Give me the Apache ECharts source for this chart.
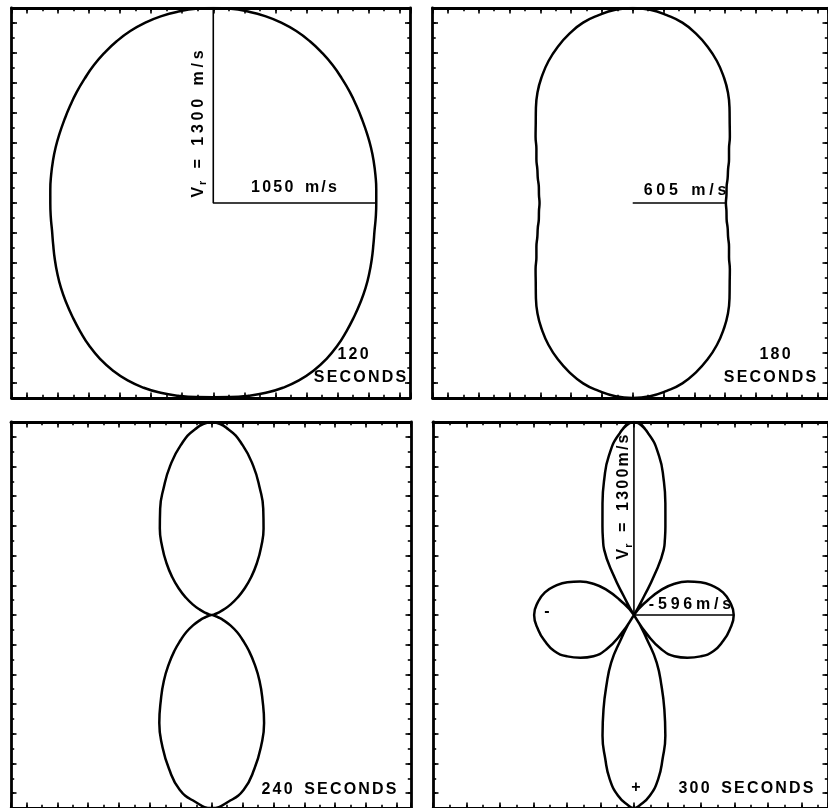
<!DOCTYPE html>
<html>
<head>
<meta charset="utf-8">
<script src="https://cdn.jsdelivr.net/npm/echarts@6/dist/echarts.min.js"></script>
<style>
  html, body { margin: 0; padding: 0; background: #fff; }
  #chart { width: 828px; height: 808px; }
</style>
</head>
<body>
<div id="chart"></div>
<script>
// Radial velocity V_r (m/s) against direction, in degrees measured clockwise
// from straight up. Only the right half (0-180 deg) is listed; the left half
// of each pattern is its mirror image.
const angles120 = [0, 5, 10, 15, 20, 25, 30, 35, 40, 45, 50, 55, 60, 65, 70, 75, 80, 85, 90,
                   95, 100, 105, 110, 115, 120, 125, 130, 135, 140, 145, 150, 155, 160, 165, 170, 175, 180];
const vr120     = [1300, 1300, 1296, 1290, 1280, 1265, 1245, 1222, 1198, 1172, 1149, 1127, 1108, 1093, 1081, 1070, 1061, 1054, 1050,
                   1051, 1055, 1068, 1087, 1109, 1133, 1157, 1183, 1212, 1243, 1270, 1291, 1305, 1311, 1310, 1305, 1299, 1295];

const angles180 = [0, 5, 10, 15, 20, 25, 30, 35, 40, 45, 50, 55, 60, 65, 70, 75, 80, 85, 90,
                   95, 100, 105, 110, 115, 120, 125, 130, 135, 140, 145, 150, 155, 160, 165, 170, 175, 180];
const vr180     = [1300, 1293, 1272, 1245, 1201, 1150, 1093, 1029, 962, 889, 822, 770, 722, 690, 659, 638, 619, 611, 605,
                   611, 619, 638, 659, 690, 722, 770, 822, 889, 962, 1029, 1093, 1150, 1201, 1245, 1272, 1293, 1300];

const angles240 = [0, 5, 10, 15, 20, 25, 30, 35, 40, 45, 50, 55, 60, 65, 70, 75, 80, 85, 90,
                   95, 100, 105, 110, 115, 120, 125, 130, 135, 140, 145, 150, 155, 160, 165, 170, 175, 180];
const vr240     = [1300, 1255, 1160, 1040, 910, 790, 672, 558, 455, 362, 278, 205, 140, 85, 42, 18, 6, 1, 0,
                   1, 6, 18, 42, 85, 140, 200, 262, 341, 432, 540, 658, 803, 937, 1071, 1195, 1261, 1300];

const angles300 = [0, 4, 8, 11, 14, 17.5, 20, 22, 24.5, 25.5, 26.5,
                   31.5, 35.5, 41, 48, 55, 63, 72, 80, 90,
                   99, 106, 112, 119, 125, 131, 136, 140, 146,
                   155, 157, 161, 164, 167, 170, 172.5, 175.5, 178.5, 180];
const vr300     = [1300, 1226, 1080, 930, 776, 625, 540, 475, 290, 144, 0,
                   -167, -285, -368, -430, -486, -534, -561, -580, -596,
                   -579, -553, -513, -455, -392, -321, -238, -136, 0,
                   206, 348, 506, 659, 834, 985, 1113, 1220, 1283, 1300];

// Values quoted on the guide lines (m/s)
const upward120 = 1300, sideways120 = 1050;
const sideways180 = 605;
const upward300 = 1300, sideways300 = -596;

// Panel captions
const times = ['120', '180', '240', '300'];
const unitWord = 'SECONDS';

// Frame ticks: long every 200 m/s, short every 100 m/s, counted from the origin
const majorStep = 200, minorStep = 100;

// ---- layout (pixels) and visible velocity window of each panel (m/s) ----
const panels = [
  { angles: angles120, vr: vr120, box: { left: 11.5, top: 8,   width: 399, height: 390 }, xr: [-1300, 1270.6], yr: [-1300, 1300] },
  { angles: angles180, vr: vr180, box: { left: 432.5, top: 8,  width: 400, height: 390 }, xr: [-1300, 1268],   yr: [-1300, 1300] },
  { angles: angles240, vr: vr240, box: { left: 11,   top: 422, width: 400, height: 390 }, xr: [-1300, 1291],   yr: [-1300, 1300] },
  { angles: angles300, vr: vr300, box: { left: 433,  top: 422, width: 400, height: 390 }, xr: [-1200, 1159],   yr: [-1300, 1300] }
];

const INK = '#000';

// Closed outline: right half from the top down, then the mirrored left half
// back up. The first and last segments are repeated so the smoothing runs
// through the starting point without a corner.
function outline(angles, vr) {
  const right = angles.map((a, i) => {
    const t = a * Math.PI / 180;
    return [vr[i] * Math.sin(t), vr[i] * Math.cos(t)];
  });
  const left = right.slice(1, -1).reverse().map(p => [-p[0], p[1]]);
  const loop = right.concat(left);
  return [loop[loop.length - 1]].concat(loop, [loop[0], loop[1]]);
}

// One edge of a frame: the border line with long ticks, or short ticks only
function edgeAxis(gridIndex, position, range, step, withLine) {
  return {
    type: 'value', gridIndex, position, min: range[0], max: range[1],
    splitNumber: 20, minInterval: step, maxInterval: step,
    axisLine: { show: withLine, onZero: false, lineStyle: { color: INK, width: 2.8 } },
    axisTick: { show: true, inside: true, length: withLine ? 5.5 : 3.2, lineStyle: { color: INK, width: 1.6 } },
    axisLabel: { show: false }, splitLine: { show: false }
  };
}
function dataAxis(gridIndex, range) {
  return { type: 'value', gridIndex, min: range[0], max: range[1], show: false };
}

const grid = [], xAxis = [], yAxis = [], series = [];
panels.forEach((p, i) => {
  grid.push(Object.assign({ containLabel: false }, p.box));
  xAxis.push(dataAxis(i, p.xr),
             edgeAxis(i, 'bottom', p.xr, majorStep, true), edgeAxis(i, 'bottom', p.xr, minorStep, false),
             edgeAxis(i, 'top', p.xr, majorStep, true), edgeAxis(i, 'top', p.xr, minorStep, false));
  yAxis.push(dataAxis(i, p.yr),
             edgeAxis(i, 'left', p.yr, majorStep, true), edgeAxis(i, 'left', p.yr, minorStep, false),
             edgeAxis(i, 'right', p.yr, majorStep, true), edgeAxis(i, 'right', p.yr, minorStep, false));
  series.push({
    type: 'line', xAxisIndex: 5 * i, yAxisIndex: 5 * i,
    data: outline(p.angles, p.vr), showSymbol: false, smooth: 0.5, clip: true, silent: true,
    lineStyle: { color: INK, width: 2.5 }
  });
});

function guide(i, pts) {
  series.push({
    type: 'line', xAxisIndex: 5 * i, yAxisIndex: 5 * i, data: pts,
    showSymbol: false, clip: true, silent: true, lineStyle: { color: INK, width: 1.6 }
  });
}
guide(0, [[0, upward120], [0, 0], [sideways120, 0]]);
guide(1, [[0, 0], [sideways180, 0]]);
guide(3, [[0, upward300], [0, 0], [Math.abs(sideways300), 0]]);

// ---- lettering: bold sans with open tracking ----
const FAMILY = '"Liberation Sans", Arial, sans-serif';
function tracked(str, style) {
  return str.split('').map(ch => '{' + (ch === ' ' ? 'w' : style) + '|' + ch + '}').join('');
}
const base = { fontFamily: FAMILY, fontWeight: 'bold', fontSize: 16, fill: INK };
const rich = {
  t:  Object.assign({}, base, { padding: [0, 1.1, 0, 1.1] }),
  tw: Object.assign({}, base, { padding: [0, 1.9, 0, 1.9] }),
  tn: Object.assign({}, base, { padding: [0, 0.7, 0, 0.7] }),
  w:  Object.assign({}, base, { padding: [0, 2.5, 0, 2.5] }),
  s:  Object.assign({}, base, { fontSize: 11, padding: [9, 1, 0, 0] })
};
function label(x, y, text, opts) {
  opts = opts || {};
  return {
    type: 'text', x, y, rotation: opts.rotation || 0, silent: true,
    style: { text, rich, fill: INK, align: opts.align || 'center', verticalAlign: 'middle' }
  };
}
function velocityText(value, style) {
  return tracked('V', style) + '{s|r}' + tracked(' = ' + value, style);
}

const graphic = [
  label(198.5, 124, velocityText(upward120 + ' m/s', 'tw'), { rotation: Math.PI / 2 }),
  label(294, 188, tracked(sideways120 + ' m/s', 't')),
  label(353, 354.5, tracked(times[0], 't')),
  label(360, 378, tracked(unitWord, 't')),
  label(685, 191, tracked(sideways180 + ' m/s', 'tw')),
  label(775, 354.5, tracked(times[1], 't')),
  label(770, 378, tracked(unitWord, 't')),
  label(329, 790, tracked(times[2] + ' ' + unitWord, 't')),
  label(624, 497, velocityText(upward300 + 'm/s', 't'), { rotation: Math.PI / 2 }),
  label(690, 605, tracked(sideways300 + 'm/s', 'tw')),
  label(746, 789, tracked(times[3] + ' ' + unitWord, 't')),
  label(547, 612, tracked('-', 't')),
  label(636, 788, tracked('+', 'tn'))
];

const chart = echarts.init(document.getElementById('chart'), null, { renderer: 'canvas' });
chart.setOption({
  animation: false,
  backgroundColor: '#fff',
  grid, xAxis, yAxis, series, graphic
});
</script>
</body>
</html>
